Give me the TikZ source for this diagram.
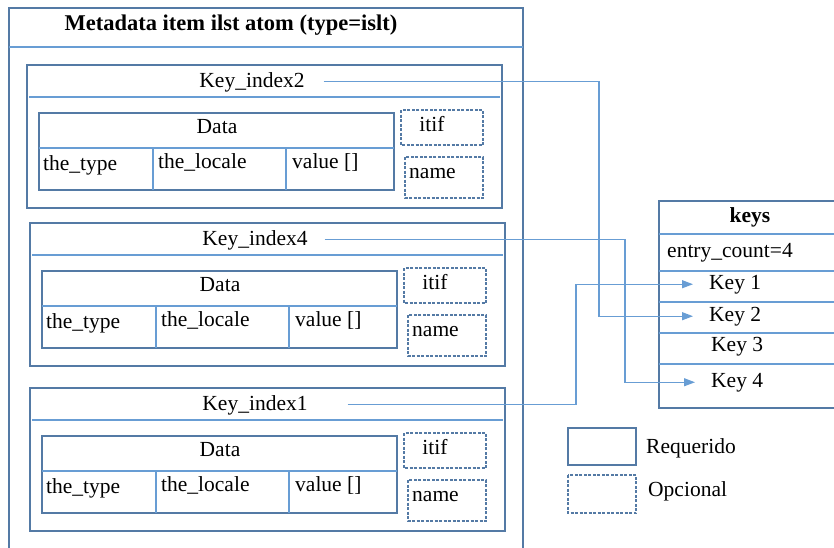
\documentclass[tikz,border=0pt]{standalone}
\usepackage{fontspec}
\setmainfont{Liberation Serif}
\usetikzlibrary{arrows.meta}

\definecolor{boxcol}{RGB}{84,122,165}
\definecolor{linecol}{RGB}{104,157,212}

\tikzset{
  frame/.style={draw=boxcol, line width=1.2pt},
  rule/.style={draw=linecol, line width=1.2pt},
  optbox/.style={draw=boxcol, line width=1.2pt, dash pattern=on 3pt off 1.5pt},
  lbl/.style={inner sep=0pt, anchor=base, font=\fontsize{21.5}{24}\selectfont},
  lblw/.style={lbl, anchor=base west},
  conn/.style={draw=linecol, line width=1.2pt, -{Triangle[length=11pt,width=8pt]}},
}

% One metadata item: key header, Data table and the optional itif/name boxes.
% #1 = shift, #2 = key label, #3 = node name prefix
\newcommand\metaitem[3]{%
  \begin{scope}[shift={#1}]
    \draw[frame] (27,65) rectangle (502,208);
    \draw[rule] (29,97) -- (500,97);
    \node[lbl] (#3key) at (252,87) {#2};
    \draw[frame] (39,113) rectangle (394,190);
    \draw[rule] (39,148) -- (394,148);
    \draw[rule] (153,148) -- (153,190);
    \draw[rule] (286,148) -- (286,190);
    \node[lbl] (#3data) at (217,133) {Data};
    \node[lblw] (#3type) at (43,170) {the\_type};
    \node[lblw] (#3locale) at (158,168) {the\_locale};
    \node[lblw] (#3value) at (292,168) {value []};
    \draw[optbox] (401,110) rectangle (483,145);
    \node[lbl] (#3itif) at (432,131) {itif};
    \draw[optbox] (405,157) rectangle (483,198);
    \node[lblw] (#3name) at (409,178) {name};
  \end{scope}%
}

\begin{document}
\begin{tikzpicture}[x=1pt, y=-1pt]
  \useasboundingbox (0,0) rectangle (834,547);
  \clip (0,0) rectangle (834,547);

  % outer atom box
  \draw[frame] (9,8) rectangle (523,570);
  \draw[rule] (9,47) -- (523,47);
  \node[lbl, font=\fontsize{22.5}{25}\selectfont\bfseries] (title) at (231,30)
    {Metadata item ilst atom (type=islt)};

  \metaitem{(0,0)}{Key\_index2}{ga}
  \metaitem{(3,158)}{Key\_index4}{gb}
  \metaitem{(3,323)}{Key\_index1}{gc}

  % keys table
  \draw[frame] (659,201) rectangle (850,408);
  \foreach \yy in {234,271,302,333,364} \draw[rule] (659,\yy) -- (850,\yy);
  \node[lbl, font=\fontsize{21.5}{24}\selectfont\bfseries] (keys) at (750,222) {keys};
  \node[lblw] (count) at (667,257) {entry\_count=4};
  \node[lblw] (key1) at (709,289) {Key 1};
  \node[lblw] (key2) at (709,321) {Key 2};
  \node[lblw] (key3) at (711,351) {Key 3};
  \node[lblw] (key4) at (711,387) {Key 4};

  % links from each key index to its entry
  \coordinate (bendA) at (599,0);
  \coordinate (bendB) at (625,0);
  \coordinate (bendC) at (576,0);
  \draw[conn] ([xshift=19pt]gakey.east) -| (bendA |- key2.west) -- ([xshift=-16pt]key2.west);
  \draw[conn] ([xshift=17pt]gbkey.east) -| (bendB |- key4.west) -- ([xshift=-16pt]key4.west);
  \draw[conn] ([xshift=40pt]gckey.east) -| (bendC |- key1.west) -- ([xshift=-16pt]key1.west);

  % legend
  \draw[frame] (568,428) rectangle (636,465);
  \node[lblw] (req) at (646,453) {Requerido};
  \draw[optbox] (568,475) rectangle (636,513);
  \node[lblw] (opc) at (648,496) {Opcional};
\end{tikzpicture}
\end{document}
